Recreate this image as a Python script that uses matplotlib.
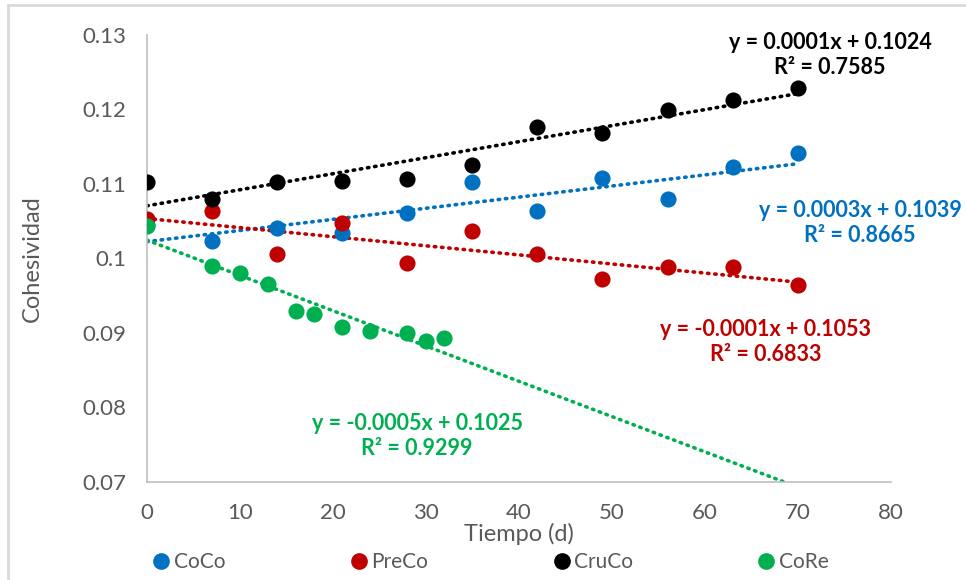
import numpy as np
import matplotlib.pyplot as plt
from matplotlib.lines import Line2D

plt.rcParams['font.family'] = ['Lato', 'DejaVu Sans']

# datos
dias = [0, 7, 14, 21, 28, 35, 42, 49, 56, 63, 70]
coco = [0.1045, 0.1023, 0.1041, 0.1034, 0.1061, 0.1102, 0.1064, 0.1108, 0.1080, 0.1122, 0.1142]
preco = [0.1053, 0.1063, 0.1006, 0.1048, 0.0994, 0.1037, 0.1006, 0.0972, 0.0988, 0.0988, 0.0964]
cruco = [0.1102, 0.1080, 0.1102, 0.1104, 0.1106, 0.1125, 0.1176, 0.1168, 0.1199, 0.1213, 0.1229]
dias_core = [0, 7, 10, 13, 16, 18, 21, 24, 28, 30, 32]
core = [0.1044, 0.0990, 0.0981, 0.0965, 0.0930, 0.0925, 0.0908, 0.0903, 0.0900, 0.0889, 0.0893]

nombres = ['CoCo', 'PreCo', 'CruCo', 'CoRe']
colores = ['#0070C0', '#C00000', '#000000', '#00B050']
ecuaciones = ['y = 0.0003x + 0.1039\nR² = 0.8665',
              'y = -0.0001x + 0.1053\nR² = 0.6833',
              'y = 0.0001x + 0.1024\nR² = 0.7585',
              'y = -0.0005x + 0.1025\nR² = 0.9299']
pos_ec = [(860, 223), (766, 342), (830, 55), (417, 436)]

series = [(dias, coco), (dias, preco), (dias, cruco), (dias_core, core)]

fig = plt.figure(figsize=(9.66, 5.8), dpi=100)
ax = fig.add_axes([0.152, 0.169, 0.770, 0.771])

gris = '#595959'
xs = np.array([0, 70])
for (x, y), nom, col, ec, (px, py) in zip(series, nombres, colores, ecuaciones, pos_ec):
    ax.scatter(x, y, s=135, color=col, label=nom, zorder=3, linewidths=0)
    m, b = np.polyfit(x, y, 1)
    ax.plot(xs, m * xs + b, color=col, lw=2.6, linestyle=(0, (0.4, 1.6)),
            dash_capstyle='round', zorder=2)
    fig.text(px / 966, 1 - py / 580, ec, color=col, fontsize=15.5, fontweight='bold',
             ha='center', va='center', linespacing=1.2)

ax.set_xlim(0, 80)
ax.set_ylim(0.07, 0.13)
ax.set_xticks(range(0, 81, 10))
ax.set_yticks([0.07, 0.08, 0.09, 0.1, 0.11, 0.12, 0.13])
ax.set_yticklabels(['0.07', '0.08', '0.09', '0.1', '0.11', '0.12', '0.13'])
ax.tick_params(length=0, labelsize=16, colors=gris)
ax.tick_params(axis='x', pad=15)
ax.tick_params(axis='y', pad=15)
for s in ['top', 'right']:
    ax.spines[s].set_visible(False)
for s in ['left', 'bottom']:
    ax.spines[s].set_color('#BFBFBF')
    ax.spines[s].set_linewidth(1.2)

ax.set_xlabel('Tiempo (d)', fontsize=17, color=gris, labelpad=0)
ax.set_ylabel('Cohesividad', fontsize=17, color=gris, labelpad=28)

handles = [Line2D([], [], marker='o', ls='', color=c, markersize=11) for c in colores]
fig.legend(handles, nombres, loc='center', bbox_to_anchor=(0.506, 1 - 562 / 580), ncol=4,
           frameon=False, fontsize=15, labelcolor=gris, handletextpad=0.0,
           columnspacing=5.8, handlelength=1.2)

# borde del area del grafico
fig.add_artist(Line2D([8 / 966, 8 / 966], [0, 1 - 5 / 580], transform=fig.transFigure,
                      color='#D9D9D9', lw=2))
fig.add_artist(Line2D([8 / 966, 1], [1 - 5 / 580, 1 - 5 / 580], transform=fig.transFigure,
                      color='#D9D9D9', lw=2))

fig.savefig('out.png', dpi=100)
